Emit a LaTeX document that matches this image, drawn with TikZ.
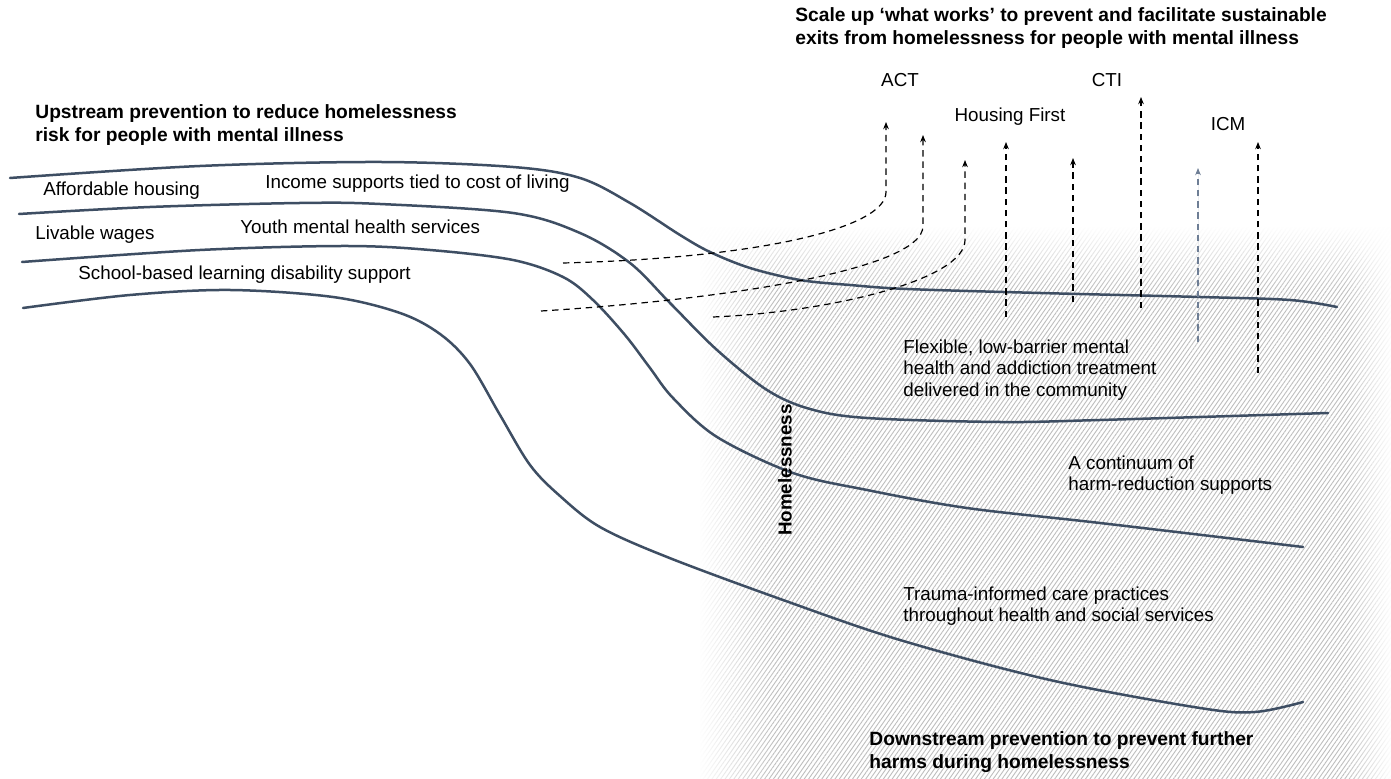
\documentclass[tikz,border=0pt]{standalone}
\usepackage{fontspec}
\setmainfont{Liberation Sans}
\usetikzlibrary{arrows.meta,patterns.meta,fadings}
\definecolor{curvecol}{HTML}{3E4E63}
\definecolor{hatchcol}{HTML}{BEBEBE}
\definecolor{slatecol}{HTML}{6E7E95}
\tikzfading[name=fadeToRight, left color=transparent!0, right color=transparent!100]
\tikzfading[name=fadeToLeft, left color=transparent!100, right color=transparent!0]
\tikzfading[name=fadeDown, top color=transparent!0, bottom color=transparent!100]
\begin{document}
\begin{tikzpicture}[x=0.5pt,y=-0.5pt,
  band/.style={draw=curvecol, line width=1.25pt, line cap=round},
  exitarrow/.style={draw=black, line width=0.6pt, dash pattern=on 3.2pt off 2.4pt, -{Stealth[length=3.6pt,width=2.8pt]}},
  txt/.style={font=\fontsize{9.4}{10.6}\selectfont, inner sep=0pt, anchor=west, align=left},
  ttl/.style={font=\bfseries\fontsize{9.6}{11.2}\selectfont, inner sep=0pt, anchor=west, align=left},
]
% canvas
\fill[white] (0,0) rectangle (1391,779);
\useasboundingbox (0,0) rectangle (1391,779);

% hatched homelessness zone
\fill[pattern={Lines[angle=55,distance=1.8pt,line width=0.45pt]}, pattern color=hatchcol] (700,228) rectangle (1391,779);
\fill[white, path fading=fadeToRight] (699,227) rectangle (775,779);
\fill[white, path fading=fadeDown] (699,227) rectangle (1391,290);
\fill[white, path fading=fadeToLeft] (1345,227) rectangle (1392,779);

% bands
\draw[band] plot[smooth, tension=0.55] coordinates {(10,178) (200,166) (380,162) (513,167) (580,178) (630,203) (680,235) (710,252) (750,268) (800,280) (850,285) (907,289) (1040,293) (1200,297) (1290,300) (1337,307)};
\draw[band] plot[smooth, tension=0.55] coordinates {(19,214) (150,207) (300,203) (380,204) (513,213) (580,233) (630,263) (670,303) (717,350) (767,390) (810,409) (867,418) (1000,422) (1100,420) (1328,413)};
\draw[band] plot[smooth, tension=0.55] coordinates {(22,262) (200,250) (345,246) (430,250) (513,260) (563,277) (593,300) (625,335) (650,368) (673,398) (717,437) (793,473) (867,490) (967,508) (1100,523) (1303,547)};
\draw[band] plot[smooth, tension=0.55] coordinates {(23,308) (130,295) (230,290) (333,297) (400,313) (440,334) (470,364) (500,415) (530,465) (560,496) (600,527) (667,557) (783,600) (900,640) (1050,680) (1200,708) (1255,712) (1303,702)};

% exit arrows
\coordinate (a0) at (563,263); \coordinate (a1) at (886,192); \coordinate (a2) at (886,122);
\coordinate (b0) at (541,311); \coordinate (b1) at (923,226); \coordinate (b2) at (923,135);
\coordinate (c0) at (713,317); \coordinate (c1) at (965,240); \coordinate (c2) at (965,160);
\coordinate (d0) at (1006,317); \coordinate (d1) at (1006,142);
\coordinate (e0) at (1073,302); \coordinate (e1) at (1073,158);
\coordinate (f0) at (1141,308); \coordinate (f1) at (1141,97);
\coordinate (g0) at (1198,342); \coordinate (g1) at (1198,168);
\coordinate (h0) at (1258,373); \coordinate (h1) at (1258,142);

\draw[exitarrow] (a0) .. controls (760,258) and (886,228) .. (a1) -- (a2);
\draw[exitarrow] (b0) .. controls (720,300) and (923,270) .. (b1) -- (b2);
\draw[exitarrow] (c0) .. controls (830,312) and (965,280) .. (c1) -- (c2);
\draw[exitarrow] (d0) -- (d1);
\draw[exitarrow] (e0) -- (e1);
\draw[exitarrow] (f0) -- (f1);
\draw[exitarrow, draw=slatecol, fill=slatecol] (g0) -- (g1);
\draw[exitarrow] (h0) -- (h1);

% titles
\node[ttl] (up) at (35,125) {Upstream prevention to reduce homelessness\\risk for people with mental illness};
\node[ttl] (scale) at (795,28) {Scale up ‘what works’ to prevent and facilitate sustainable\\exits from homelessness for people with mental illness};
\node[ttl] (down) at (869,752) {Downstream prevention to prevent further\\harms during homelessness};
\node[font=\bfseries\fontsize{9.4}{11}\selectfont, inner sep=0pt, rotate=90] (hl) at (785,470) {Homelessness};

% upstream labels
\node[txt] (ah) at (43,191) {Affordable housing};
\node[txt] (is) at (265,184) {Income supports tied to cost of living};
\node[txt] (lw) at (35,235) {Livable wages};
\node[txt] (ym) at (240,227) {Youth mental health services};
\node[txt] (sb) at (78,275) {School-based learning disability support};

% intervention labels
\node[txt, anchor=center] (act) at (900,80) {ACT};
\node[txt, anchor=center] (cti) at (1107,80) {CTI};
\node[txt, anchor=center] (hf) at (1010,117) {Housing First};
\node[txt, anchor=center] (icm) at (1228,124) {ICM};

% downstream labels
\node[txt] (flex) at (903,370) {Flexible, low-barrier mental\\health and addiction treatment\\delivered in the community};
\node[txt] (harm) at (1068,475) {A continuum of\\harm-reduction supports};
\node[txt] (trauma) at (903,606) {Trauma-informed care practices\\throughout health and social services};
\end{tikzpicture}
\end{document}
